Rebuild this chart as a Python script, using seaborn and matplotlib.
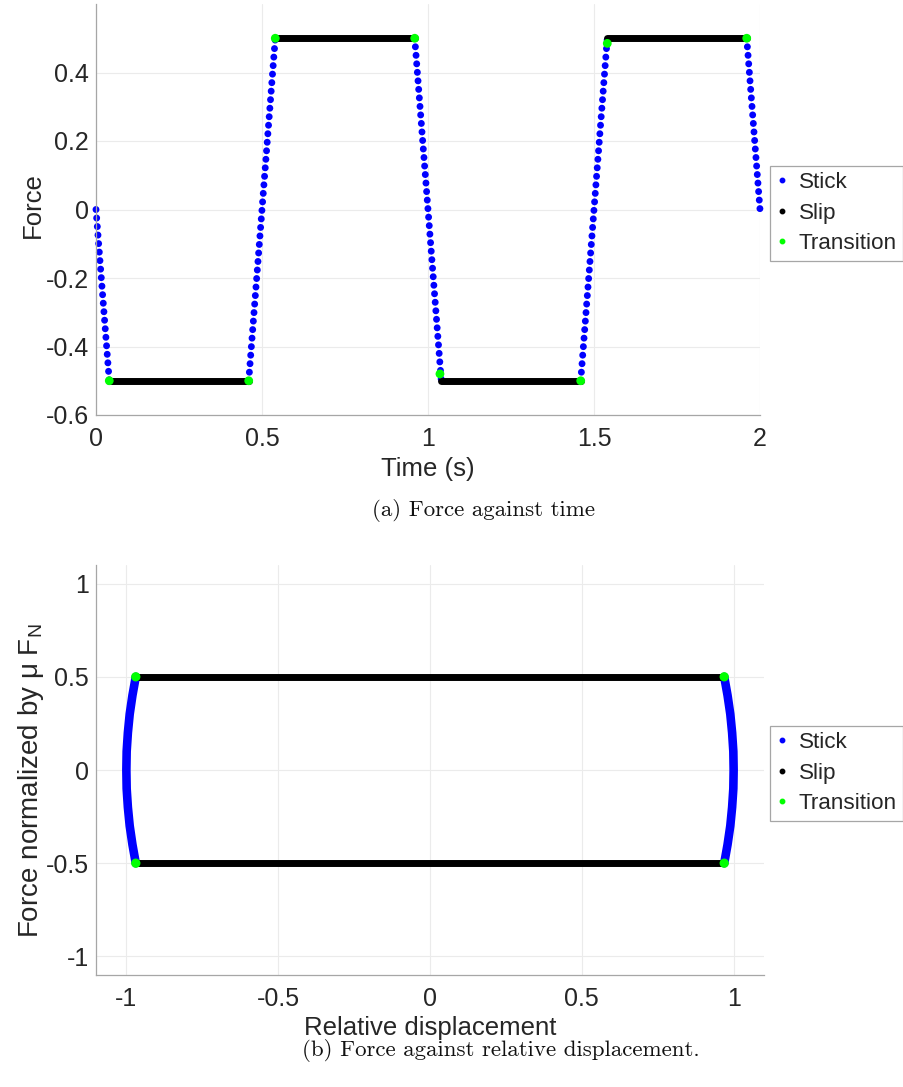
import numpy as np
import pandas as pd
import matplotlib
matplotlib.use("Agg")
import matplotlib.pyplot as plt
import seaborn as sns
from matplotlib.lines import Line2D

# ---------------- data ----------------
# (a) force against time
stick_t_start = [0.00, 0.46, 0.96, 1.46, 1.96]
stick_t_end = [0.04, 0.54, 1.04, 1.54, 2.00]
stick_f_start = [0.0, -0.5, 0.5, -0.5, 0.5]
stick_f_end = [-0.5, 0.5, -0.5, 0.5, 0.0]

slip_t_start = [0.04, 0.54, 1.04, 1.54]
slip_t_end = [0.46, 0.96, 1.46, 1.96]
slip_f = [-0.5, 0.5, -0.5, 0.5]

trans_t = [0.04, 0.46, 0.54, 0.96, 1.036, 1.46, 1.54, 1.96]
trans_f = [-0.5, -0.5, 0.5, 0.5, -0.48, -0.5, 0.485, 0.5]

# (b) force against relative displacement
arc_force = [0.5, 0.4, 0.3, 0.2, 0.1, 0.0, -0.1, -0.2, -0.3, -0.4, -0.5]
arc_disp_right = [0.969, 0.980, 0.989, 0.995, 0.999, 1.0, 0.999, 0.995, 0.989, 0.980, 0.969]
arc_disp_left = [-0.969, -0.980, -0.989, -0.995, -0.999, -1.0, -0.999, -0.995, -0.989, -0.980, -0.969]

slipb_disp_start = [-0.969, -0.969]
slipb_disp_end = [0.969, 0.969]
slipb_force = [0.5, -0.5]

transb_disp = [-0.969, 0.969, -0.969, 0.969]
transb_force = [0.5, 0.5, -0.5, -0.5]

labels = ["Stick", "Slip", "Transition"]

# ---------------- styling ----------------
sns.set_theme(style="white")
plt.rcParams["font.family"] = ["Liberation Sans", "DejaVu Sans"]
plt.rcParams["mathtext.default"] = "regular"

BLUE = (0, 0, 1)
BLACK = (0, 0, 0)
GREEN = (0, 1, 0)
SPINE = "#a6a6a6"
TXT = "#262626"

W, H = 904, 1087
fig = plt.figure(figsize=(W / 100, H / 100), dpi=100)

ax1 = fig.add_axes([96 / W, 1 - 415 / H, 664 / W, 411 / H])
ax2 = fig.add_axes([96 / W, 1 - 975 / H, 668 / W, 410 / H])

# ---------------- (a) ----------------
rows = []
for i, (t0, t1, f0, f1) in enumerate(zip(stick_t_start, stick_t_end, stick_f_start, stick_f_end)):
    rows.append(dict(seg=i, t=t0, F=f0))
    rows.append(dict(seg=i, t=t1, F=f1))
df_stick = pd.DataFrame(rows)

rows = []
for i, (t0, t1, f) in enumerate(zip(slip_t_start, slip_t_end, slip_f)):
    rows.append(dict(seg=i, t=t0, F=f))
    rows.append(dict(seg=i, t=t1, F=f))
df_slip = pd.DataFrame(rows)

df_trans = pd.DataFrame(dict(t=trans_t, F=trans_f))

n0 = len(ax1.lines)
sns.lineplot(data=df_stick, x="t", y="F", units="seg", estimator=None, sort=False,
             color=BLUE, lw=5.0, ax=ax1, legend=False)
for ln in ax1.lines[n0:]:
    ln.set_linestyle((0, (0.01, 1.22)))
    ln.set_dash_capstyle("round")
    ln.set_clip_on(False)
n1 = len(ax1.lines)
sns.lineplot(data=df_slip, x="t", y="F", units="seg", estimator=None, sort=False,
             color=BLACK, lw=5.0, ax=ax1, legend=False)
for ln in ax1.lines[n1:]:
    ln.set_solid_capstyle("round")
sns.scatterplot(data=df_trans, x="t", y="F", color=GREEN, s=40, edgecolor="none",
                ax=ax1, legend=False, zorder=5)

ax1.set_xlim(0, 2)
ax1.set_ylim(-0.6, 0.6)
ax1.set_xticks([0, 0.5, 1, 1.5, 2])
ax1.set_xticklabels(["0", "0.5", "1", "1.5", "2"])
ax1.set_yticks([-0.6, -0.4, -0.2, 0, 0.2, 0.4])
ax1.set_yticklabels(["-0.6", "-0.4", "-0.2", "0", "0.2", "0.4"])
ax1.set_xlabel("Time (s)")
ax1.set_ylabel("Force")

# ---------------- (b) ----------------
rows = []
for i, xs in enumerate([arc_disp_left, arc_disp_right]):
    for x, f in zip(xs, arc_force):
        rows.append(dict(seg=i, x=x, F=f))
df_arc = pd.DataFrame(rows)

rows = []
for i, (x0, x1, f) in enumerate(zip(slipb_disp_start, slipb_disp_end, slipb_force)):
    rows.append(dict(seg=i, x=x0, F=f))
    rows.append(dict(seg=i, x=x1, F=f))
df_slipb = pd.DataFrame(rows)

df_transb = pd.DataFrame(dict(x=transb_disp, F=transb_force))

n0 = len(ax2.lines)
sns.lineplot(data=df_arc, x="x", y="F", units="seg", estimator=None, sort=False,
             color=BLUE, lw=6.2, ax=ax2, legend=False)
for ln in ax2.lines[n0:]:
    ln.set_solid_capstyle("round")
n1 = len(ax2.lines)
sns.lineplot(data=df_slipb, x="x", y="F", units="seg", estimator=None, sort=False,
             color=BLACK, lw=5.0, ax=ax2, legend=False)
for ln in ax2.lines[n1:]:
    ln.set_solid_capstyle("round")
sns.scatterplot(data=df_transb, x="x", y="F", color=GREEN, s=45, edgecolor="none",
                ax=ax2, legend=False, zorder=5)

ax2.set_xlim(-1.1, 1.1)
ax2.set_ylim(-1.1, 1.1)
ax2.set_xticks([-1, -0.5, 0, 0.5, 1])
ax2.set_xticklabels(["-1", "-0.5", "0", "0.5", "1"])
ax2.set_yticks([-1, -0.5, 0, 0.5, 1])
ax2.set_yticklabels(["-1", "-0.5", "0", "0.5", "1"])
ax2.set_xlabel("Relative displacement")
ax2.set_ylabel("Force normalized by $\\mu$ F$_N$")

# ---------------- common axes styling ----------------
for ax in (ax1, ax2):
    ax.grid(True, color="#ebebeb", lw=0.8)
    ax.set_axisbelow(True)
    for s in ("top", "right"):
        ax.spines[s].set_visible(False)
    for s in ("left", "bottom"):
        ax.spines[s].set_color(SPINE)
        ax.spines[s].set_linewidth(0.9)
    ax.tick_params(axis="both", direction="in", length=5, width=0.8, color=SPINE,
                   labelsize=18, labelcolor=TXT)
    ax.tick_params(axis="x", pad=9)
    ax.tick_params(axis="y", pad=5)
    ax.xaxis.label.set_size(18.5)
    ax.yaxis.label.set_size(18.5)
    ax.xaxis.label.set_color(TXT)
    ax.yaxis.label.set_color(TXT)
ax2.yaxis.label.set_size(20)

ax1.xaxis.set_label_coords(0.5, -0.102)
ax1.yaxis.set_label_coords(-0.077, 0.51)
ax2.xaxis.set_label_coords(0.5, -0.1)
ax2.yaxis.set_label_coords(-0.075, 0.475)

handles = [Line2D([], [], ls="", marker="o", markersize=3.2, color=c) for c in (BLUE, BLACK, GREEN)]
for top in (166, 726):
    leg = fig.legend(handles, labels, loc="upper left",
                     bbox_to_anchor=(770 / W, 1 - top / H), bbox_transform=fig.transFigure,
                     borderaxespad=0, frameon=True, fancybox=False, framealpha=1,
                     edgecolor=SPINE, fontsize=16.2, handlelength=0.5, handletextpad=0.5,
                     labelspacing=0.42, borderpad=0.28)
    leg.get_frame().set_linewidth(0.9)
    for t in leg.get_texts():
        t.set_color(TXT)

fig.text(484 / W, 1 - 511 / H, "(a) Force against time", ha="center", va="center",
         family="cmr10", fontsize=16.5, color="#111111")
fig.text(501 / W, 1 - 1050 / H, "(b) Force against relative displacement.", ha="center",
         va="center", family="cmr10", fontsize=16.5, color="#111111")

fig.savefig("out.png", dpi=100)
